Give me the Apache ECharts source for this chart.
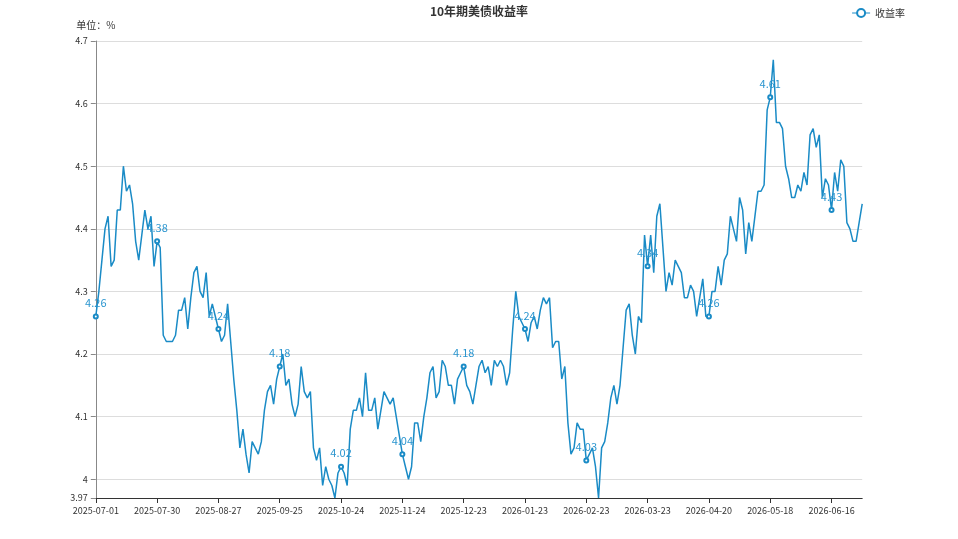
<!DOCTYPE html>
<html>
<head>
<meta charset="utf-8">
<title>10年期美债收益率</title>
<script src="https://cdn.jsdelivr.net/npm/echarts@6/dist/echarts.min.js"></script>
<style>
  html, body { margin: 0; padding: 0; background: #fff; }
  #chart { width: 958px; height: 539px; }
</style>
</head>
<body>
<div id="chart"></div>
<script>
// 美债休市日（周末之外）
const holidays = [
  "2025-07-04", "2025-09-01", "2025-10-13", "2025-11-11", "2025-11-27",
  "2025-12-25", "2026-01-01", "2026-01-19", "2026-02-16", "2026-05-25",
  "2026-06-19"
];
const startDate = "2025-07-01";
const endDate = "2026-07-01";

// 10年期美债收益率（%），按交易日
const yields = [
  4.26, 4.30, 4.35, 4.40, 4.42, 4.34, 4.35, 4.43, 4.43, 4.50,
  4.46, 4.47, 4.44, 4.38, 4.35, 4.39, 4.43, 4.40, 4.42, 4.34,
  4.38, 4.37, 4.23, 4.22, 4.22, 4.22, 4.23, 4.27, 4.27, 4.29,
  4.24, 4.29, 4.33, 4.34, 4.30, 4.29, 4.33, 4.26, 4.28, 4.26,
  4.24, 4.22, 4.23, 4.28, 4.22, 4.16, 4.11, 4.05, 4.08, 4.04,
  4.01, 4.06, 4.05, 4.04, 4.06, 4.11, 4.14, 4.15, 4.12, 4.16,
  4.18, 4.20, 4.15, 4.16, 4.12, 4.10, 4.12, 4.18, 4.14, 4.13,
  4.14, 4.05, 4.03, 4.05, 3.99, 4.02, 4.00, 3.99, 3.97, 4.01,
  4.02, 4.01, 3.99, 4.08, 4.11, 4.11, 4.13, 4.10, 4.17, 4.11,
  4.11, 4.13, 4.08, 4.11, 4.14, 4.13, 4.12, 4.13, 4.10, 4.07,
  4.04, 4.02, 4.00, 4.02, 4.09, 4.09, 4.06, 4.10, 4.13, 4.17,
  4.18, 4.13, 4.14, 4.19, 4.18, 4.15, 4.15, 4.12, 4.16, 4.17,
  4.18, 4.15, 4.14, 4.12, 4.15, 4.18, 4.19, 4.17, 4.18, 4.15,
  4.19, 4.18, 4.19, 4.18, 4.15, 4.17, 4.24, 4.30, 4.26, 4.25,
  4.24, 4.22, 4.25, 4.26, 4.24, 4.27, 4.29, 4.28, 4.29, 4.21,
  4.22, 4.22, 4.16, 4.18, 4.09, 4.04, 4.05, 4.09, 4.08, 4.08,
  4.03, 4.04, 4.05, 4.02, 3.97, 4.05, 4.06, 4.09, 4.13, 4.15,
  4.12, 4.15, 4.21, 4.27, 4.28, 4.23, 4.20, 4.26, 4.25, 4.39,
  4.34, 4.39, 4.33, 4.42, 4.44, 4.37, 4.30, 4.33, 4.31, 4.35,
  4.34, 4.33, 4.29, 4.29, 4.31, 4.30, 4.26, 4.29, 4.32, 4.26,
  4.26, 4.30, 4.30, 4.34, 4.31, 4.35, 4.36, 4.42, 4.40, 4.38,
  4.45, 4.43, 4.36, 4.41, 4.38, 4.42, 4.46, 4.46, 4.47, 4.59,
  4.61, 4.67, 4.57, 4.57, 4.56, 4.50, 4.48, 4.45, 4.45, 4.47,
  4.46, 4.49, 4.47, 4.55, 4.56, 4.53, 4.55, 4.45, 4.48, 4.47,
  4.43, 4.49, 4.46, 4.51, 4.50, 4.41, 4.40, 4.38, 4.38, 4.41,
  4.44
];

function tradingDays(start, end) {
  let out = [];
  let d = new Date(start + "T00:00:00Z");
  let last = new Date(end + "T00:00:00Z");
  while (d <= last) {
    let s = d.toISOString().slice(0, 10);
    let wd = d.getUTCDay();
    if (wd !== 0 && wd !== 6 && holidays.indexOf(s) < 0) out.push(s);
    d.setUTCDate(d.getUTCDate() + 1);
  }
  return out;
}

const dates = tradingDays(startDate, endDate).slice(0, yields.length);

let myChart = echarts.init(document.getElementById("chart"));

myChart.setOption({
  textStyle: {
    fontFamily: "'Noto Sans CJK SC', 'Noto Sans', sans-serif",
  },
  title: {
    text: "10年期美债收益率",
    left: "center",
    top: 0,
    textStyle: {
      fontSize: 12,
      fontWeight: "bold",
      color: "#333",
    },
  },
  legend: {
    right: "5%",
    top: 3,
    itemWidth: 18,
    itemHeight: 10,
    itemStyle: {
      borderWidth: 1,
    },
    lineStyle: {
      width: 1,
    },
    textStyle: {
      fontSize: 10,
      color: "#333",
    },
  },
  grid: {
    left: "10%",
    right: "10%",
    top: 41,
    bottom: 41,
    outerBoundsMode: "none",
  },
  xAxis: {
    type: "category",
    boundaryGap: false,
    data: dates,
    axisLine: {
      lineStyle: {
        color: "#333",
      },
    },
    axisLabel: {
      interval: 19,
      fontSize: 9,
      color: "#333",
    },
  },
  yAxis: {
    type: "value",
    name: "单位：%",
    nameGap: 11,
    min: 3.97,
    max: 4.7,
    nameTextStyle: {
      fontSize: 10,
      color: "#333",
    },
    axisLine: {
      show: true,
      lineStyle: {
        color: "#888",
      },
    },
    axisTick: {
      show: true,
    },
    axisLabel: {
      fontSize: 9,
      color: "#333",
    },
    splitLine: {
      lineStyle: {
        color: "#ddd",
      },
    },
  },
  series: [
    {
      name: "收益率",
      type: "line",
      data: yields,
      symbol: "emptyCircle",
      symbolSize: 4,
      itemStyle: {
        color: "#1a8bc6",
        borderWidth: 1,
      },
      lineStyle: {
        width: 1.5,
        color: "#1a8bc6",
      },
      label: {
        show: true,
        fontSize: 11,
        color: "#2a95cf",
      },
    },
  ],
});
</script>
</body>
</html>
